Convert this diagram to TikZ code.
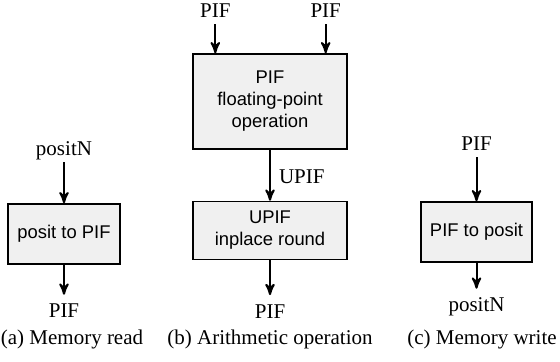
\documentclass[tikz,border=0pt]{standalone}
\usepackage{fontspec}
\setmainfont{Liberation Serif}
\newfontfamily\boxfont{Liberation Sans}
\usetikzlibrary{arrows,positioning}

\tikzset{
  block/.style={draw, line width=0.7pt, fill=black!6, align=center,
    font=\boxfont\fontsize{9.2}{11}\selectfont, inner sep=1pt},
  lbl/.style={font=\fontsize{10.5}{12}\selectfont, inner sep=1pt,
    text height=10pt, text depth=2pt},
  subcap/.style={font=\fontsize{10.5}{12}\selectfont, anchor=base, inner sep=0pt}
}

\begin{document}
\begin{tikzpicture}[>=stealth', line width=1pt, node distance=1cm]
	\useasboundingbox (0,0) rectangle (280pt,181pt);
	% (a) memory read
	\node[block, minimum width=56pt, minimum height=30pt] (p2pif) at (32pt,64pt) {posit to PIF};
	\node[lbl] [above=20.5pt of p2pif] (posNa) {positN};
	\node[lbl] [below=15pt of p2pif] (pifA) {PIF};
	% (b) arithmetic
	\node[block, minimum width=77pt, minimum height=47.5pt] (fpop) at (135pt,130.25pt) {PIF\\floating-point\\operation};
	\node[block, minimum width=77pt, minimum height=29pt] [below=25.5pt of fpop] (round) {UPIF\\inplace round};
	\node[lbl] [above=14.5pt of fpop.north west, xshift=11.5pt] (pifL) {PIF};
	\node[lbl] [above=14.5pt of fpop.north east, xshift=-11pt] (pifR) {PIF};
	\node[lbl] [below=17.5pt of round] (pifB) {PIF};
	% (c) memory write
	\node[block, minimum width=55.5pt, minimum height=30pt] (pif2p) at (238.25pt,65pt) {PIF to posit};
	\node[lbl] [above=22pt of pif2p] (pifC) {PIF};
	\node[lbl] [below=13pt of pif2p] (posNc) {positN};
	\path[->]
		(posNa) edge (p2pif)
		(p2pif) edge (pifA)
		(pifL) edge (pifL |- fpop.north)
		(pifR) edge (pifR |- fpop.north)
		(fpop) edge node [lbl, right=3pt] {UPIF} (round)
		(round) edge (pifB)
		(pifC) edge (pif2p)
		(pif2p) edge (posNc);
	% captions
	\node[subcap] (capA) at (36pt,8.5pt) {(a) Memory read};
	\node[subcap] (capB) at (135pt,8.5pt) {(b) Arithmetic operation};
	\node[subcap] (capC) at (241pt,8.5pt) {(c) Memory write};
\end{tikzpicture}
\end{document}
